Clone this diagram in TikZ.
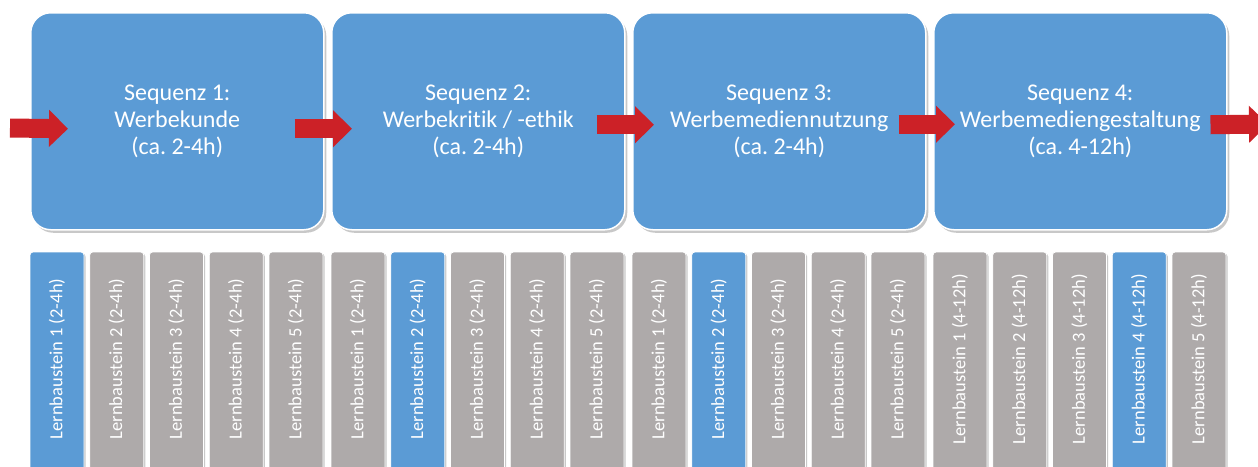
\documentclass[tikz,border=0pt]{standalone}
\usepackage{fontspec}
\setmainfont{Carlito}[Ligatures={NoCommon}]
\usepackage{graphicx}
\usetikzlibrary{shadows,calc,arrows.meta}
\definecolor{bblue}{HTML}{5B9BD5}
\definecolor{bgrey}{HTML}{AEAAAA}
\definecolor{ared}{HTML}{CC2127}
\frenchspacing
\begin{document}
\begin{tikzpicture}[x=1pt,y=-1pt,
  seqbox/.style={draw=white, line width=1.5pt, fill=bblue, rounded corners=20pt,
    minimum width=293pt, minimum height=217pt, inner sep=0pt, text=white,
    font=\fontsize{24}{27}\selectfont, align=center, anchor=north west,
    drop shadow={shadow xshift=2.5pt, shadow yshift=-3pt, opacity=0.3, fill=black!70}},
  lbcol/.style={draw=white, line width=0.8pt, rounded corners=3pt,
    minimum width=54pt, minimum height=228pt, inner sep=0pt, text=white,
    font=\fontsize{18.5}{20}\selectfont,
    drop shadow={shadow xshift=1.5pt, shadow yshift=-1.5pt, opacity=0.3, fill=black!70}},
  redarrow/.style={draw=ared, line width=19pt, line cap=butt,
    -{Triangle[width=36pt,length=19pt]}}
]
\useasboundingbox (0,0) rectangle (1258,466);
\fill[white] (0,0) rectangle (1258,466);
\clip (0,0) rectangle (1258,466);

% sequence boxes
\node[seqbox] (s1) at (30,12)  {Sequenz 1:\\Werbekunde\\(ca.\ 2-4h)};
\node[seqbox] (s2) at (331,12) {Sequenz 2:\\Werbekritik / -ethik\\(ca.\ 2-4h)};
\node[seqbox] (s3) at (632,12) {Sequenz 3:\\Werbemediennutzung\\(ca.\ 2-4h)};
\node[seqbox] (s4) at (933,12) {Sequenz 4:\\Werbemediengestaltung\\(ca.\ 4-12h)};

% arrows
\coordinate (in) at (10,128);
\coordinate (out) at (1268,124);
\draw[redarrow] (in) -- ($(s1.west)+(38,7.5)$);
\draw[redarrow] ($(s1.east)+(-30,7.5)$) -- ($(s2.west)+(21,7.5)$);
\draw[redarrow] ($(s2.east)+(-29,3.5)$) -- ($(s3.west)+(22,3.5)$);
\draw[redarrow] ($(s3.east)+(-28,3)$) -- ($(s4.west)+(22,3)$);
\draw[redarrow] ($(s4.east)+(-17,3.5)$) -- (out);

% Lernbausteine
\foreach \g/\b/\h in {0/0/2-4h,1/1/2-4h,2/1/2-4h,3/3/4-12h}{
  \foreach \j in {0,...,4}{
    \pgfmathtruncatemacro\lbn{\j+1}
    \ifnum\j=\b \def\lbfill{bblue}\else\def\lbfill{bgrey}\fi
    \node[lbcol, fill=\lbfill] (c\g\lbn) at ({30+301*\g+59.75*\j+27},366)
      {\rotatebox{90}{\hspace*{14pt}Lernbaustein \lbn\ (\h)}};
  }
}
\end{tikzpicture}
\end{document}
